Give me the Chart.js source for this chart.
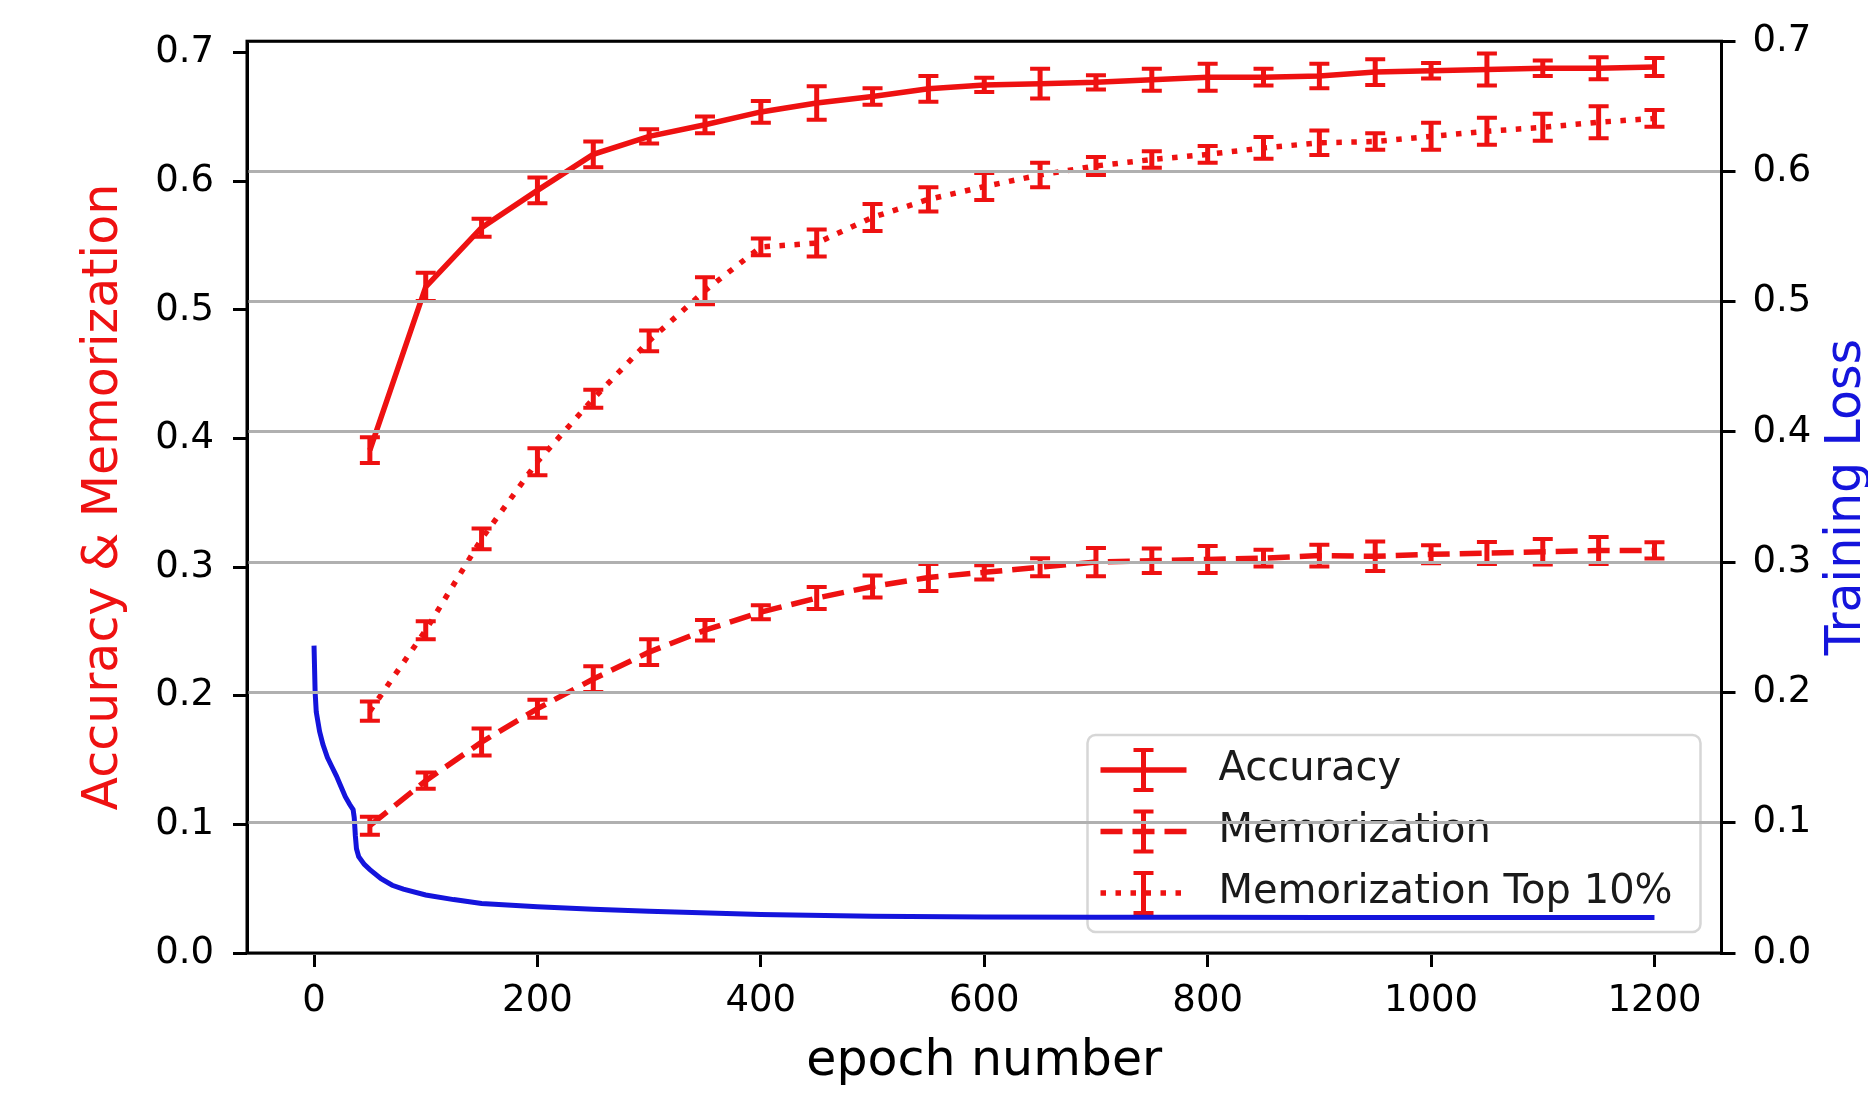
<!DOCTYPE html>
<html>
<head>
<meta charset="utf-8">
<script src="https://cdn.jsdelivr.net/npm/chart.js@4.4.0/dist/chart.umd.min.js"></script>
<style>
  html, body { margin: 0; padding: 0; background: #fff; }
  #wrap { width: 1868px; height: 1095px; }
</style>
</head>
<body>
<div id="wrap"><canvas id="chart" width="1868" height="1095"></canvas></div>
<script>
// ── Data ───────────────────────────────────────────────────────────
const epochs = [50, 100, 150, 200, 250, 300, 350, 400, 450, 500, 550, 600,
  650, 700, 750, 800, 850, 900, 950, 1000, 1050, 1100, 1150, 1200];

const accuracy = [0.391, 0.518, 0.564, 0.593, 0.621, 0.635, 0.644, 0.654, 0.661, 0.666, 0.672, 0.675,
  0.676, 0.677, 0.679, 0.681, 0.681, 0.682, 0.685, 0.686, 0.687, 0.688, 0.688, 0.689];
const accuracyErr = [0.010, 0.011, 0.007, 0.010, 0.010, 0.0055, 0.0065, 0.0085, 0.013, 0.0065, 0.010, 0.0055,
  0.0115, 0.0055, 0.0085, 0.0105, 0.0065, 0.0095, 0.010, 0.006, 0.0125, 0.006, 0.0085, 0.007];

const memorization = [0.099, 0.134, 0.164, 0.190, 0.213, 0.234, 0.251, 0.265, 0.276, 0.285, 0.292, 0.296,
  0.300, 0.304, 0.305, 0.306, 0.307, 0.309, 0.3085, 0.310, 0.311, 0.312, 0.313, 0.313];
const memorizationErr = [0.007, 0.0063, 0.0105, 0.007, 0.010, 0.010, 0.008, 0.0055, 0.0085, 0.0085, 0.0105, 0.0055,
  0.007, 0.011, 0.0095, 0.0105, 0.0065, 0.0085, 0.0115, 0.007, 0.0085, 0.010, 0.0105, 0.0063];

const memTop10 = [0.188, 0.251, 0.322, 0.382, 0.431, 0.476, 0.515, 0.549, 0.552, 0.572, 0.586, 0.596,
  0.605, 0.612, 0.617, 0.621, 0.626, 0.630, 0.631, 0.635, 0.639, 0.642, 0.646, 0.649];
const memTop10Err = [0.0075, 0.007, 0.008, 0.0105, 0.007, 0.008, 0.0105, 0.0065, 0.0105, 0.0105, 0.0095, 0.0105,
  0.0095, 0.007, 0.0065, 0.0065, 0.0085, 0.0095, 0.0065, 0.0105, 0.0105, 0.0105, 0.0125, 0.0065];

const lossEpochs = [0, 1, 2, 5, 8, 12, 16, 20, 24, 28, 32, 35, 36, 37, 38, 40, 45, 50, 60, 70, 80,
  100, 125, 150, 200, 250, 300, 400, 500, 600, 700, 800, 900, 1000, 1100, 1200];
const trainingLoss = [0.236, 0.200, 0.185, 0.170, 0.160, 0.150, 0.143, 0.136, 0.128, 0.120, 0.114, 0.110, 0.104, 0.090, 0.080, 0.074, 0.068, 0.064, 0.057, 0.052, 0.049,
  0.0445, 0.041, 0.038, 0.0355, 0.0335, 0.032, 0.0295, 0.0282, 0.0277, 0.0275, 0.0274, 0.0273, 0.0273, 0.0272, 0.0272];

const xTicks = [0, 200, 400, 600, 800, 1000, 1200];
const yTicks = [0, 0.1, 0.2, 0.3, 0.4, 0.5, 0.6, 0.7];

// ── Style ──────────────────────────────────────────────────────────
const RED = '#ee1111';
const BLUE = '#1414dc';
const FONT = "'DejaVu Sans', sans-serif";
const LINE_W = 5.5;
const DASHED = [22, 10];
const DOTTED = [5.5, 9.5];

function toPoints(xs, ys) {
  return xs.map(function (x, i) { return { x: x, y: ys[i] }; });
}

// ── Error bars + legend (drawn before the loss curve, like ax1 under ax2)
function drawErrorBars(ctx, chart, values, errs) {
  const xs = chart.scales.x, ys = chart.scales.y;
  ctx.save();
  ctx.strokeStyle = RED;
  ctx.setLineDash([]);
  ctx.lineCap = 'butt';
  epochs.forEach(function (ep, i) {
    const x = xs.getPixelForValue(ep);
    const y0 = ys.getPixelForValue(values[i] - errs[i]);
    const y1 = ys.getPixelForValue(values[i] + errs[i]);
    ctx.lineWidth = 5;
    ctx.beginPath(); ctx.moveTo(x, y0); ctx.lineTo(x, y1); ctx.stroke();
    ctx.lineWidth = 4;
    ctx.beginPath();
    ctx.moveTo(x - 10, y0); ctx.lineTo(x + 10, y0);
    ctx.moveTo(x - 10, y1); ctx.lineTo(x + 10, y1);
    ctx.stroke();
  });
  ctx.restore();
}

function drawLegend(ctx, chart) {
  const area = chart.chartArea;
  const w = 613, h = 197;
  const left = area.right - 21 - w;
  const top = area.bottom - 21 - h;
  const entries = [
    { label: 'Accuracy', dash: [] },
    { label: 'Memorization', dash: DASHED },
    { label: 'Memorization Top 10%', dash: DOTTED },
  ];
  ctx.save();
  ctx.fillStyle = 'rgba(255,255,255,0.8)';
  ctx.strokeStyle = 'rgba(204,204,204,0.8)';
  ctx.lineWidth = 2.5;
  ctx.beginPath();
  ctx.roundRect(left, top, w, h, 8);
  ctx.fill();
  ctx.stroke();

  entries.forEach(function (e, i) {
    const cy = top + 35 + i * 61.5;
    const hx0 = left + 13, hx1 = left + 99, hc = (hx0 + hx1) / 2;
    ctx.strokeStyle = RED;
    ctx.lineWidth = LINE_W;
    ctx.lineCap = 'butt';
    ctx.setLineDash(e.dash);
    ctx.beginPath(); ctx.moveTo(hx0, cy); ctx.lineTo(hx1, cy); ctx.stroke();
    ctx.setLineDash([]);
    ctx.lineWidth = 5;
    ctx.beginPath(); ctx.moveTo(hc, cy - 20); ctx.lineTo(hc, cy + 20); ctx.stroke();
    ctx.lineWidth = 4;
    ctx.beginPath();
    ctx.moveTo(hc - 10, cy - 20); ctx.lineTo(hc + 10, cy - 20);
    ctx.moveTo(hc - 10, cy + 20); ctx.lineTo(hc + 10, cy + 20);
    ctx.stroke();

    ctx.fillStyle = '#1a1a1a';
    ctx.font = '40px ' + FONT;
    ctx.textAlign = 'left';
    ctx.textBaseline = 'middle';
    ctx.fillText(e.label, left + 131, cy);
  });
  ctx.restore();
}

const figurePlugin = {
  id: 'figure',
  afterDatasetDraw: function (chart, args) {
    // the last red series drawn; loss curve comes after it
    if (args.index !== 3) return;
    const ctx = chart.ctx;
    drawErrorBars(ctx, chart, accuracy, accuracyErr);
    drawErrorBars(ctx, chart, memorization, memorizationErr);
    drawErrorBars(ctx, chart, memTop10, memTop10Err);
    drawLegend(ctx, chart);
  },
  afterDraw: function (chart) {
    const ctx = chart.ctx;
    const a = chart.chartArea;
    ctx.save();
    ctx.strokeStyle = '#000';
    ctx.lineWidth = 3;
    ctx.setLineDash([]);
    ctx.strokeRect(a.left, a.top, a.right - a.left, a.bottom - a.top);

    // right axis title, reading bottom to top
    ctx.translate(1847, (a.top + a.bottom) / 2);
    ctx.rotate(-Math.PI / 2);
    ctx.fillStyle = BLUE;
    ctx.font = '49px ' + FONT;
    ctx.textAlign = 'center';
    ctx.textBaseline = 'middle';
    ctx.fillText('Training Loss', 0, 0);
    ctx.restore();
  },
};

// ── Chart ──────────────────────────────────────────────────────────
const tickFont = { family: FONT, size: 37 };

new Chart(document.getElementById('chart'), {
  type: 'line',
  data: {
    datasets: [
      {
        label: 'Training Loss',
        data: toPoints(lossEpochs, trainingLoss),
        yAxisID: 'y1',
        borderColor: BLUE,
        borderWidth: 5,
        pointRadius: 0,
        tension: 0,
        order: 0,
      },
      {
        label: 'Accuracy',
        data: toPoints(epochs, accuracy),
        yAxisID: 'y',
        borderColor: RED,
        borderWidth: LINE_W,
        pointRadius: 0,
        tension: 0,
        order: 3,
      },
      {
        label: 'Memorization',
        data: toPoints(epochs, memorization),
        yAxisID: 'y',
        borderColor: RED,
        borderWidth: LINE_W,
        borderDash: DASHED,
        borderCapStyle: 'butt',
        pointRadius: 0,
        tension: 0,
        order: 2,
      },
      {
        label: 'Memorization Top 10%',
        data: toPoints(epochs, memTop10),
        yAxisID: 'y',
        borderColor: RED,
        borderWidth: LINE_W,
        borderDash: DOTTED,
        borderCapStyle: 'butt',
        pointRadius: 0,
        tension: 0,
        order: 1,
      },
    ],
  },
  options: {
    responsive: false,
    animation: false,
    devicePixelRatio: 1,
    layout: { padding: { top: 38, left: 0, right: 0, bottom: 0 } },
    plugins: {
      legend: { display: false },
      tooltip: { enabled: false },
    },
    scales: {
      x: {
        type: 'linear',
        min: -60,
        max: 1260,
        afterBuildTicks: function (s) { s.ticks = xTicks.map(function (v) { return { value: v }; }); },
        afterFit: function (s) { s.height = 142; },
        ticks: { color: '#000', font: tickFont, padding: 12, maxRotation: 0,
          callback: function (v) { return String(v); } },
        grid: { drawOnChartArea: false, color: '#000', tickLength: 14, lineWidth: 3 },
        border: { display: true, color: '#000', width: 3 },
        title: { display: true, text: 'epoch number', color: '#000',
          font: { family: FONT, size: 49 }, padding: { top: 0, bottom: 3 } },
      },
      y: {
        type: 'linear',
        position: 'left',
        min: 0,
        max: 0.709,
        afterBuildTicks: function (s) { s.ticks = yTicks.map(function (v) { return { value: v }; }); },
        afterFit: function (s) { s.width = 247; },
        ticks: { color: '#000', font: tickFont, padding: 19,
          callback: function (v) { return v.toFixed(1); } },
        grid: { drawOnChartArea: false, color: '#000', tickLength: 14, lineWidth: 3 },
        border: { display: true, color: '#000', width: 3 },
        title: { display: true, text: 'Accuracy & Memorization', color: RED,
          font: { family: FONT, size: 49 }, padding: { top: 75, bottom: 0 } },
      },
      y1: {
        type: 'linear',
        position: 'right',
        min: 0,
        max: 0.7,
        afterBuildTicks: function (s) { s.ticks = yTicks.map(function (v) { return { value: v }; }); },
        afterFit: function (s) { s.width = 146.5; },
        ticks: { color: '#000', font: tickFont, padding: 17,
          callback: function (v) { return v.toFixed(1); } },
        grid: { drawOnChartArea: true, color: '#b0b0b0', lineWidth: 3, z: 1,
          tickColor: '#000', tickWidth: 3, tickLength: 14 },
        border: { display: true, color: '#000', width: 3, z: 2 },
      },
    },
  },
  plugins: [figurePlugin],
});
</script>
</body>
</html>
